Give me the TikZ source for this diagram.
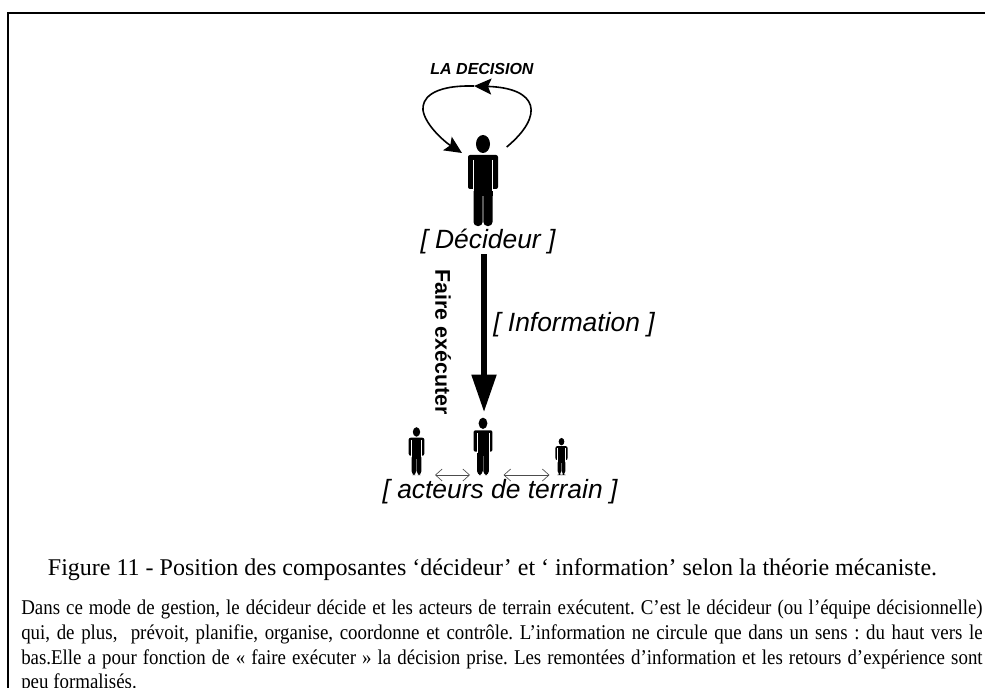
\documentclass[tikz,border=0pt]{standalone}
\usepackage{fontspec}
\setmainfont{Liberation Serif}
\setsansfont{Liberation Sans}
\newfontfamily\bodyserif[FakeStretch=0.9]{Liberation Serif}
\usetikzlibrary{arrows.meta, calc, positioning}
\tikzset{
  person/.pic={
    % drawn 91 high, feet at the origin
    \fill (0,-82) ellipse (7 and 9);
    \fill[rounded corners=1.5] (-15,-71) -- (15,-71) -- (15,-37) -- (9.5,-37) -- (-9.5,-37) -- (-15,-37) -- cycle;
    \fill[rounded corners=3] (-9.5,-40) rectangle (-0.4,0);
    \fill[rounded corners=3] (0.4,-40) rectangle (9.5,0);
    \fill (-9.5,-66) rectangle (9.5,-30);
    \draw[white,line width=0.5] (-9.7,-66) -- (-9.7,-35);
    \draw[white,line width=0.5] (9.7,-66) -- (9.7,-35);
  },
  labeltxt/.style={font=\sffamily\itshape\fontsize{19.8}{22}\selectfont,inner sep=0pt,anchor=base},
  sidearrow/.style={{Straight Barb[length=5,width=9]}-{Straight Barb[length=5,width=9]},draw=black!70,line width=0.5},
  looparrow/.style={line width=1.2,-{Stealth[length=13,width=12,inset=2.5]}}
}
\begin{document}
\frenchspacing
\begin{tikzpicture}[x=0.75pt,y=-0.75pt]
\useasboundingbox (0,0) rectangle (985,688);
\draw[line width=1.5] (7.5,688) -- (7.5,13) -- (985,13);

% decider
\pic at (483,226) {person};
\node[font=\sffamily\bfseries\itshape\fontsize{12}{14}\selectfont,inner sep=0pt] (decision) at (482,69) {LA DECISION};
\node[labeltxt] (decideur) at (488,248) {[ Décideur ]};

% loop
\coordinate (loopstart) at (506.7,147);
\coordinate (looptop) at (474,86);
\coordinate (loopend) at (462,153);
\draw[looparrow] (loopstart) .. controls (545,115) and (538,88) .. (looptop);
\draw[looparrow] (looptop) .. controls (430,85) and (422,100) .. (423,110) .. controls (425,125) and (445,142) .. (loopend);

% actors
\pic[scale=0.63] at (483,475) {person};
\pic[scale=0.525] at (416.5,475) {person};
\pic[scale=0.407] at (561.5,475) {person};
\coordinate (actora) at (435,475);
\coordinate (actorb) at (470,475);
\coordinate (actorc) at (503.5,475);
\coordinate (actord) at (549.5,475);
\draw[sidearrow] (actora) -- (actorb);
\draw[sidearrow] (actorc) -- (actord);
\node[labeltxt] (acteurs) at (500,498) {[ acteurs de terrain ]};

% information
\coordinate (infotop) at (484,254);
\coordinate (infobot) at (484,412);
\draw[line width=3.8,-{Triangle[length=28,width=18]}] (infotop) -- (infobot);
\node[labeltxt,anchor=base west] (info) at (493,331.5) {[ Information ]};
\node[font=\sffamily\bfseries\fontsize{16}{18}\selectfont,rotate=-90,inner sep=0pt] (faire) at (443,342) {Faire exécuter};

% caption and text
\node[font=\fontsize{18}{20}\selectfont,inner sep=0pt,anchor=base] (caption) at (492.5,575) {Figure 11 - Position des composantes ‘décideur’ et ‘ information’ selon la théorie mécaniste.};
\node[anchor=north west,inner sep=0pt,text width=721pt,align=justify,font=\bodyserif\fontsize{15.75}{18.5}\selectfont] (body) at (21,600) {Dans ce mode de gestion, le décideur décide et les acteurs de terrain exécutent. C’est le décideur (ou l’équipe décisionnelle)\linebreak qui, de plus,~~prévoit, planifie, organise, coordonne et contrôle. L’information ne circule que dans un sens : du haut vers le\linebreak bas.Elle a pour fonction de « faire exécuter » la décision prise. Les remontées d’information et les retours d’expérience sont\linebreak peu formalisés.};
\end{tikzpicture}
\end{document}
